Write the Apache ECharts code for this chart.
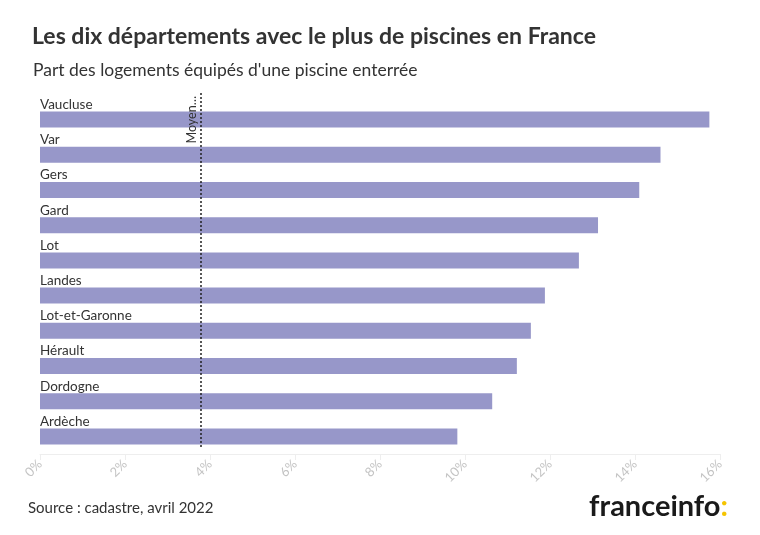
<!DOCTYPE html>
<html><head><meta charset="utf-8">
<script src="https://cdn.jsdelivr.net/npm/echarts@6/dist/echarts.min.js"></script>
<style>html,body{margin:0;padding:0;background:#fff}#c{width:760px;height:535px}</style>
</head><body><div id="c"></div>
<script>
const categories = ["Vaucluse","Var","Gers","Gard","Lot","Landes","Lot-et-Garonne","Hérault","Dordogne","Ardèche"];
const values = [15.75,14.6,14.1,13.13,12.68,11.88,11.55,11.22,10.64,9.82];
const average = 3.79;
const averageLabel = "Moyen…";
const xTicks = [0,2,4,6,8,10,12,14,16];

const F = "Lato, 'Noto Sans', sans-serif";
const chart = echarts.init(document.getElementById('c'));
chart.setOption({
  animation:false,
  textStyle:{fontFamily:F},
  title:[
    {text:"Les dix départements avec le plus de piscines en France",left:27,top:20,
     textStyle:{fontSize:23,fontWeight:'bold',color:'#333',fontFamily:F}},
    {text:"Part des logements équipés d'une piscine enterrée",left:28,top:56,
     textStyle:{fontSize:17.5,fontWeight:'normal',color:'#333',fontFamily:F}}
  ],
  graphic:[
    {type:'text',left:28,top:501,style:{text:"Source : cadastre, avril 2022",fontSize:15,fill:'#333',fontFamily:F}},
    {type:'text',right:32,top:492,style:{text:"{a|franceinfo}{b|:}",fontFamily:F,
      rich:{a:{fontSize:29,fontWeight:'bold',fill:'#1a1a1a',fontFamily:F},b:{fontSize:29,fontWeight:'bold',fill:'#f5c400',fontFamily:F}}}}
  ],
  grid:{left:40,right:40,top:102,bottom:81,containLabel:false},
  xAxis:{type:'value',min:0,max:16,interval:2,
    data:xTicks,
    axisLine:{show:true,lineStyle:{color:'#eee'}},
    axisTick:{show:true,length:6,lineStyle:{color:'#eee'}},
    splitLine:{show:false},
    axisLabel:{rotate:45,color:'#c4c4c4',fontSize:13,margin:8,formatter:v=>v+'%'}},
  yAxis:{type:'category',data:categories,inverse:true,
    axisLine:{show:false},axisTick:{show:false},axisLabel:{show:false}},
  series:[{type:'bar',data:values,barWidth:16,
    itemStyle:{color:'#9797c9'},
    label:{show:true,position:[0,-14],formatter:'{b}',color:'#333',fontSize:13.5,fontFamily:F},
    markLine:{silent:true,symbol:'none',
      lineStyle:{type:[2,2],color:'#222',width:1.5},
      label:{show:true,formatter:averageLabel,position:'insideEndTop',color:'#333',fontSize:12.5,fontFamily:F,distance:3},
      data:[[{xAxis:average,y:447},{xAxis:average,y:93}]]}
  }]
});
</script></body></html>
